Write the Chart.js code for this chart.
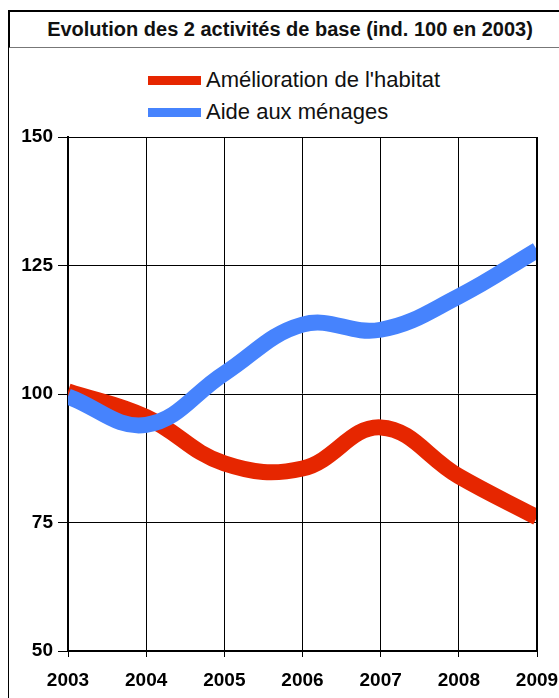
<!DOCTYPE html>
<html>
<head>
<meta charset="utf-8">
<script src="https://cdn.jsdelivr.net/npm/chart.js@4.4.0/dist/chart.umd.min.js"></script>
<style>
  html, body { margin: 0; padding: 0; background: #fff; }
  body { width: 559px; height: 698px; position: relative; overflow: hidden; font-family: "Liberation Sans", Arial, sans-serif; }
  #titleBox {
    position: absolute; left: 8px; top: 10px; width: 600px; height: 35px;
    border-top: 2px solid #000; border-left: 2px solid #000; border-bottom: 1px solid #777;
  }
  #titleBox span {
    position: absolute; left: 0; width: 560px; top: 6px; text-align: center;
    font-weight: bold; font-size: 20px; color: #111;
  }
  #frame { position: absolute; left: 8px; top: 47px; width: 1px; height: 660px; background: #000; }
  #legend { position: absolute; left: 148px; top: 64px; }
  .item { height: 32px; display: flex; align-items: center; font-size: 22px; color: #111; }
  .swatch { width: 53px; height: 9px; margin-right: 5px; }
  canvas { position: absolute; left: 0; top: 0; }
</style>
</head>
<body>
<div id="titleBox"><span>Evolution des 2 activités de base (ind. 100 en 2003)</span></div>
<div id="frame"></div>
<div id="legend"></div>
<canvas id="chart" width="559" height="698"></canvas>
<script>
const years = ['2003', '2004', '2005', '2006', '2007', '2008', '2009'];
const habitat = [100.5, 95.5, 86.5, 85.5, 93.5, 84, 76];
const menages = [99.5, 94, 104, 113.5, 112.5, 119, 128];
const seriesNames = ["Amélioration de l'habitat", 'Aide aux ménages'];
const seriesColors = ['#e62600', '#4683fd'];

const legend = document.getElementById('legend');
seriesNames.forEach(function (name, i) {
    const row = document.createElement('div');
    row.className = 'item';
    row.innerHTML = '<div class="swatch" style="background:' + seriesColors[i] + '"></div>' + name;
    legend.appendChild(row);
});

const tickFont = { family: 'Liberation Sans', size: 19, weight: 'bold' };

const ctx = document.getElementById('chart');
new Chart(ctx, {
    type: 'line',
    data: {
        labels: years,
        datasets: [{
            label: seriesNames[0],
            data: habitat,
            borderColor: seriesColors[0],
            borderWidth: 16,
            pointRadius: 0,
            tension: 0.4,
            clip: 0,
            order: 1
        }, {
            label: seriesNames[1],
            data: menages,
            borderColor: seriesColors[1],
            borderWidth: 16,
            pointRadius: 0,
            tension: 0.4,
            clip: 0,
            order: 0
        }]
    },
    options: {
        responsive: false,
        animation: false,
        layout: { padding: { left: 0, top: 137, right: 22, bottom: 0 } },
        plugins: { legend: { display: false }, tooltip: { enabled: false } },
        scales: {
            x: {
                offset: false,
                grid: { color: '#000', lineWidth: 1, tickLength: 6 },
                border: { color: '#000', width: 2 },
                ticks: { color: '#000', font: tickFont, padding: 12, maxRotation: 0 },
                afterFit: function (scale) {
                    scale.height = 47;
                    scale.paddingLeft = 0;
                    scale.paddingRight = 0;
                }
            },
            y: {
                min: 50,
                max: 150,
                ticks: { stepSize: 25, color: '#000', font: tickFont, padding: 5 },
                grid: { color: '#000', lineWidth: 1, tickLength: 10 },
                border: { color: '#000', width: 2 },
                afterFit: function (scale) {
                    scale.width = 68;
                    scale.paddingTop = 0;
                    scale.paddingBottom = 0;
                }
            }
        }
    },
    plugins: [{
        id: 'rightEdge',
        afterDraw: function (chart) {
            const a = chart.chartArea;
            const c = chart.ctx;
            c.save();
            c.strokeStyle = '#000';
            c.lineWidth = 2;
            c.beginPath();
            c.moveTo(a.right, a.top);
            c.lineTo(a.right, a.bottom);
            c.stroke();
            c.restore();
        }
    }]
});
</script>
</body>
</html>
